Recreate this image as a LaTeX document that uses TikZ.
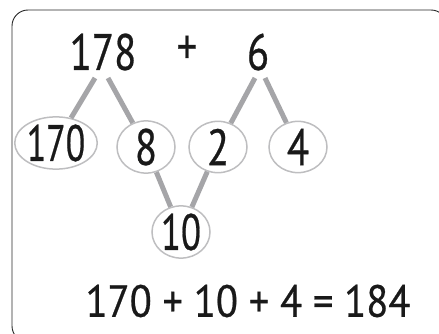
\documentclass[tikz,border=0pt]{standalone}
\usepackage{fontspec}
\setmainfont[FakeBold=0.6]{PT Sans}
\usetikzlibrary{shapes.geometric}
\definecolor{bar}{RGB}{165,165,168}
\definecolor{ring}{RGB}{190,190,192}
\definecolor{frame}{RGB}{40,40,40}
\newcommand{\narrow}[2]{\scalebox{#1}[1]{#2}}
\tikzset{
  big/.style={font=\fontsize{51}{51}\selectfont, inner sep=0pt, text=black!90},
  bubble/.style={ellipse, draw=ring, line width=1.5pt, minimum width=58pt, minimum height=50pt, inner sep=0pt, font=\fontsize{51}{51}\selectfont, text=black!90},
  link/.style={draw=bar, line width=5pt}
}
\begin{document}
\begin{tikzpicture}[x=1pt,y=-1pt]
\useasboundingbox (0,0) rectangle (439,334);
\draw[frame, line width=0.9pt, rounded corners=16pt] (12,10) rectangle (447,342);
\node[big] (a) at (103,52) {\narrow{0.8}{178}};
\node[big] (plus) at (187,50) {\narrow{0.8}{+}};
\node[big] (b) at (258,52) {\narrow{0.8}{6}};
\node[bubble, minimum width=69pt] (n170) at (56,143) {\narrow{0.7}{170}};
\node[bubble] (n8) at (146,147) {\narrow{0.8}{8}};
\node[bubble] (n2) at (218,147) {\narrow{0.8}{2}};
\node[bubble] (n4) at (298,147) {\narrow{0.8}{4}};
\node[bubble] (n10) at (181,232) {\narrow{0.72}{10}};
\node[font=\fontsize{45}{45}\selectfont, text=black!90, inner sep=0pt] (sum) at (248,301) {\narrow{0.9}{170 + 10 + 4 = 184}};
\coordinate (a1) at (95,78);
\coordinate (a2) at (108,78);
\coordinate (b1) at (255,78);
\coordinate (b2) at (265,78);
\path[link] (a1) -- (n170);
\path[link] (a2) -- (n8);
\path[link] (b1) -- (n2);
\path[link] (b2) -- (n4);
\path[link] (n8) -- (n10);
\path[link] (n2) -- (n10);
\end{tikzpicture}
\end{document}
